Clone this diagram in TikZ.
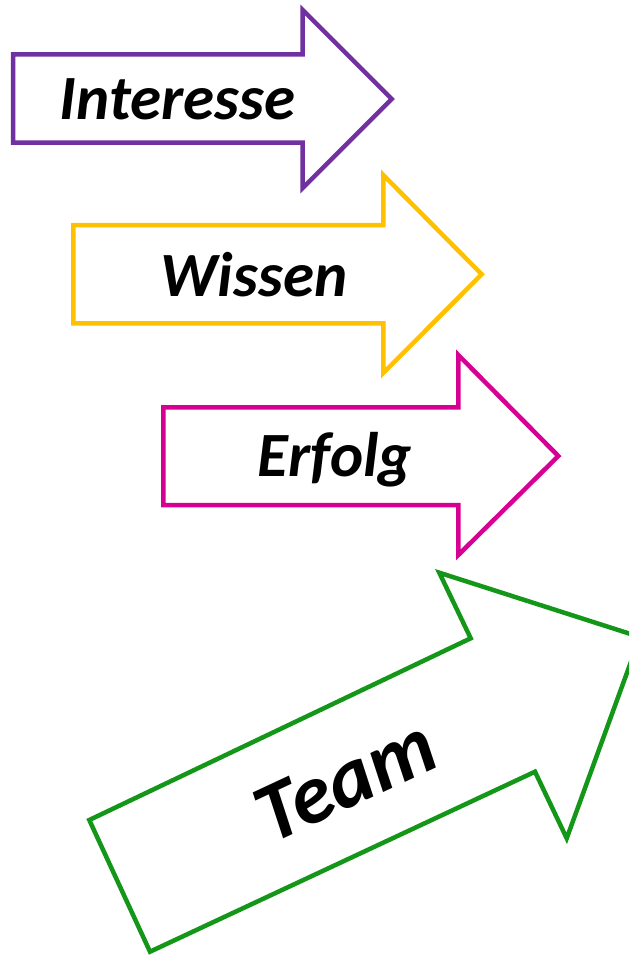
\documentclass[tikz,border=0pt]{standalone}
\usepackage{fontspec}
\setmainfont{Carlito}
\definecolor{arrowpurple}{HTML}{7030A0}
\definecolor{arrowgold}{HTML}{FFC000}
\definecolor{arrowpink}{HTML}{D60093}
\definecolor{arrowgreen}{RGB}{20,150,25}
\tikzset{
  outline/.style={line width=4.5pt, fill=white, miter limit=20},
  label/.style={font=\bfseries\itshape\fontsize{#1}{#1}\selectfont, text=black, inner sep=0pt, anchor=base},
}
\begin{document}
\begin{tikzpicture}[x=1pt, y=-1pt]
  \useasboundingbox (0,0) rectangle (629,955);
  \clip (0,0) rectangle (629,955);
  % horizontal block arrows
  \draw[outline, draw=arrowpurple] (13,54.5) -- (302.7,54.5) -- (302.7,10) -- (391.7,99)
        -- (302.7,188) -- (302.7,142.7) -- (13,142.7) -- cycle;
  \node[label=63] (interesse) at (177.5,120) {Interesse};

  \draw[outline, draw=arrowgold] (73.3,225) -- (383.3,225) -- (383.3,175) -- (481.7,274.3)
        -- (383.3,373) -- (383.3,323.3) -- (73.3,323.3) -- cycle;
  \node[label=63] (wissen) at (254,296.7) {Wissen};

  \draw[outline, draw=arrowpink] (163.3,407.3) -- (458.3,407.3) -- (458.3,355) -- (558.3,456)
        -- (458.3,555) -- (458.3,505) -- (163.3,505) -- cycle;
  \node[label=63] (erfolg) at (335,476.7) {Erfolg};

  % tilted block arrow
  \draw[outline, draw=arrowgreen] (150,951.7) -- (89.3,820) -- (470.7,638.3) -- (439.3,572.7)
        -- (640,637) -- (566.7,838.3) -- (535,771.7) -- cycle;
  \node[label=84, rotate=25] (team) at (357,805) {Team};
\end{tikzpicture}
\end{document}
